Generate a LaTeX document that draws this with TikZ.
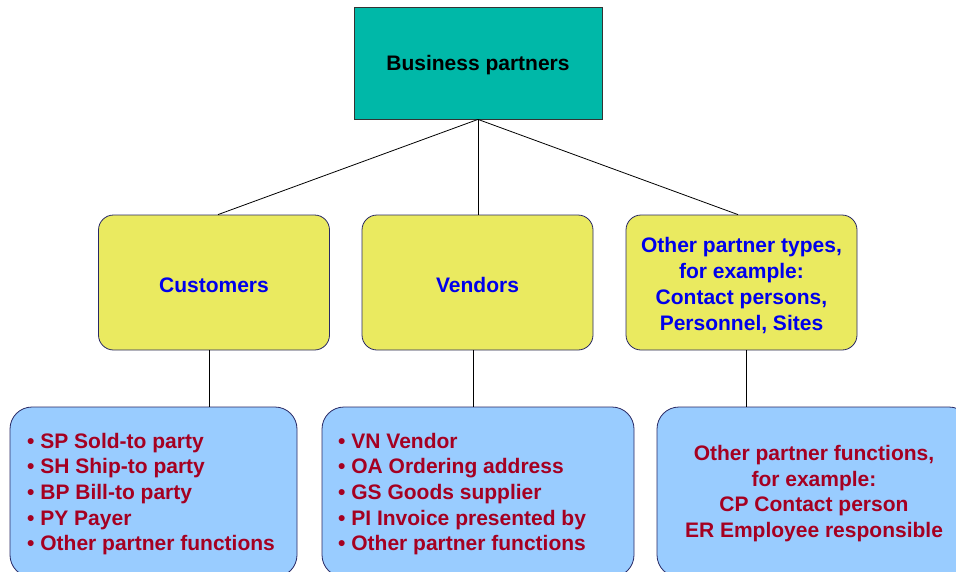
\documentclass[tikz,border=0pt]{standalone}
\usepackage{fontspec}
\setmainfont{Liberation Sans}
\definecolor{teal1}{RGB}{0,184,168}
\definecolor{yell}{RGB}{234,234,96}
\definecolor{lblue}{RGB}{153,204,255}
\definecolor{navy1}{RGB}{40,40,100}
\definecolor{txtred}{RGB}{165,0,33}
\definecolor{txtblue}{RGB}{0,0,235}
\tikzset{
  topbox/.style={draw=black!80, fill=teal1, line width=0.8pt, inner sep=0pt},
  typebox/.style={draw=navy1, fill=yell, rounded corners=15pt, line width=0.8pt, inner sep=0pt,
    minimum width=231pt, minimum height=135pt},
  funcbox/.style={draw=navy1, fill=lblue, rounded corners=22pt, line width=0.8pt, inner sep=0pt,
    minimum height=170pt},
  bigtxt/.style={font=\fontsize{21}{25.7}\selectfont\bfseries, inner sep=0pt},
  link/.style={draw=black, line width=0.8pt}
}
\begin{document}
\begin{tikzpicture}[x=1pt,y=-1pt]
\useasboundingbox (0,0) rectangle (956,571);
\clip (0,0) rectangle (956,571);
\fill[white] (0,0) rectangle (956,571);
% top
\node[topbox, minimum width=248pt, minimum height=112pt] (bp) at (478,63) {};
\node[bigtxt, text=black] (bpt) at (478,65) {Business partners};
% type boxes
\node[typebox] (cust) at (214,282.5) {};
\node[typebox] (vend) at (477.5,282.5) {};
\node[typebox] (oth) at (741.5,282.5) {};
\node[bigtxt, text=txtblue] (custt) at (214,285) {Customers};
\node[bigtxt, text=txtblue] (vendt) at (477.5,285) {Vendors};
\node[bigtxt, text=txtblue, align=center] (otht) at (741.5,285.5) {Other partner types,\\for example:\\Contact persons,\\Personnel, Sites};
% function boxes
\node[funcbox, minimum width=287pt] (cf) at (153.5,492) {};
\node[funcbox, minimum width=312pt] (vf) at (478,492) {};
\node[funcbox, minimum width=314pt] (of) at (814,492) {};
\node[bigtxt, text=txtred, align=left, anchor=west] (cft) at (27,494)
  {• SP Sold-to party\\• SH Ship-to party\\• BP Bill-to party\\• PY Payer\\• Other partner functions};
\node[bigtxt, text=txtred, align=left, anchor=west] (vft) at (338,494)
  {• VN Vendor\\• OA Ordering address\\• GS Goods supplier\\• PI Invoice presented by\\• Other partner functions};
\node[bigtxt, text=txtred, align=center] (oft) at (814,493.5)
  {Other partner functions,\\for example:\\CP Contact person\\ER Employee responsible};
% connectors
\draw[link] (bp.south) -- ([xshift=4pt]cust.north);
\draw[link] (bp.south) -- (bp.south |- vend.north);
\draw[link] (bp.south) -- ([xshift=-3.5pt]oth.north);
\draw[link] ([xshift=-5pt]cust.south) -- ([xshift=-5pt]cust.south |- cf.north);
\draw[link] ([xshift=-4.5pt]vend.south) -- ([xshift=-4.5pt]vend.south |- vf.north);
\draw[link] ([xshift=4.5pt]oth.south) -- ([xshift=4.5pt]oth.south |- of.north);
\end{tikzpicture}
\end{document}
